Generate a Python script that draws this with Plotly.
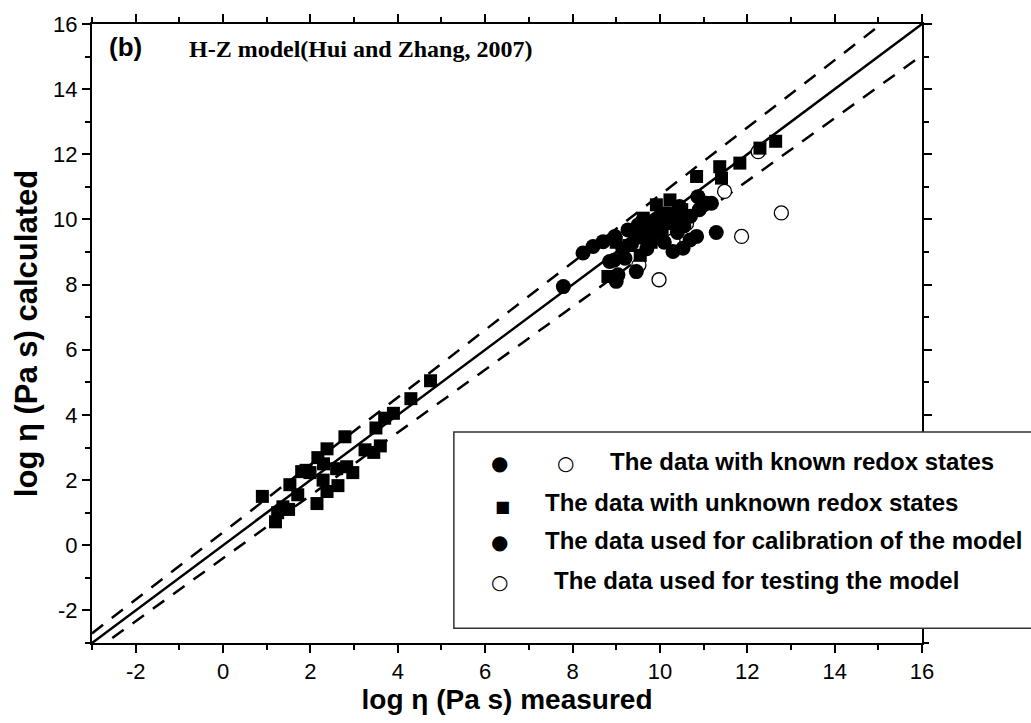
import plotly.graph_objects as go

# ---- data ----
sq_x = [0.9, 1.2, 1.25, 1.37, 1.5, 1.53, 1.71, 1.8, 1.9, 1.99, 2.15, 2.17, 2.29, 2.38, 2.38, 2.3, 2.63, 2.6,
        2.79, 2.83, 2.97, 3.25, 3.45, 3.5, 3.6, 3.7, 3.9, 4.3, 4.75,
        8.81, 9.0, 9.3, 9.45, 9.55, 9.62, 9.7, 9.8, 9.92, 9.95, 10.05, 10.1, 10.23, 10.4, 10.5, 10.84,
        11.37, 11.41, 11.83, 12.29, 12.65]
sq_y = [1.5, 0.72, 1.0, 1.18, 1.1, 1.86, 1.55, 2.26, 2.3, 2.23, 1.28, 2.69, 2.0, 1.65, 2.96, 2.5, 1.83, 2.35,
        3.33, 2.41, 2.23, 2.93, 2.85, 3.6, 3.05, 3.9, 4.05, 4.5, 5.05,
        8.25, 9.3, 9.2, 9.5, 8.9, 10.04, 9.6, 9.3, 10.45, 9.9, 9.7, 10.2, 10.6, 10.0, 10.3, 11.32,
        11.62, 11.27, 11.73, 12.19, 12.4]

cal_x = [7.79, 8.24, 8.47, 8.7, 8.85, 8.97, 9.04, 9.0, 9.2, 9.27, 9.46, 9.5, 9.35, 9.6, 9.7, 9.8, 9.9, 10.0,
         10.1, 10.2, 10.3, 10.35, 10.45, 10.53, 10.55, 10.69, 10.7, 10.84, 10.87, 10.9, 11.06, 11.18, 11.29,
         9.15, 8.95, 9.6, 10.4, 10.0]
cal_y = [7.94, 8.97, 9.17, 9.32, 8.71, 9.48, 8.3, 8.1, 8.81, 9.68, 8.4, 9.83, 9.25, 9.45, 9.1, 9.7, 10.0, 9.6,
         9.3, 9.9, 9.02, 10.2, 10.4, 9.12, 9.8, 9.37, 10.1, 9.48, 10.7, 10.3, 10.5, 10.5, 9.6,
         9.1, 8.75, 9.95, 9.6, 10.1]

test_x = [9.52, 9.98, 10.3, 10.61, 11.48, 11.87, 12.78, 12.25]
test_y = [8.6, 8.15, 9.35, 9.87, 10.86, 9.48, 10.2, 12.08]

line_x = [-3, 16]
upper_coef = (1.035, 0.4)
lower_coef = (0.965, -0.4)

legend_labels = ["The data with known redox states",
                 "The data with unknown redox states",
                 "The data used for calibration of the model",
                 "The data used for testing the model"]

x_ticks = [-2, 0, 2, 4, 6, 8, 10, 12, 14, 16]
y_ticks = [-2, 0, 2, 4, 6, 8, 10, 12, 14, 16]

ARIAL = "Arial, Liberation Sans, sans-serif"
TIMES = "Times New Roman, Liberation Serif, serif"

fig = go.Figure()

fig.add_trace(go.Scatter(x=line_x, y=line_x, mode="lines",
                         line=dict(color="black", width=2.5), hoverinfo="skip"))
fig.add_trace(go.Scatter(x=line_x, y=[upper_coef[0] * v + upper_coef[1] for v in line_x], mode="lines",
                         line=dict(color="black", width=2.5, dash="14px,11px"), hoverinfo="skip"))
fig.add_trace(go.Scatter(x=line_x, y=[lower_coef[0] * v + lower_coef[1] for v in line_x], mode="lines",
                         line=dict(color="black", width=2.5, dash="14px,11px"), hoverinfo="skip"))

fig.add_trace(go.Scatter(x=test_x, y=test_y, mode="markers",
                         marker=dict(symbol="circle", size=14, color="white",
                                     line=dict(color="black", width=1.3))))
fig.add_trace(go.Scatter(x=cal_x, y=cal_y, mode="markers",
                         marker=dict(symbol="circle", size=15, color="black", line=dict(width=0))))
fig.add_trace(go.Scatter(x=sq_x, y=sq_y, mode="markers",
                         marker=dict(symbol="square", size=13, color="black", line=dict(width=0))))

axis_common = dict(showgrid=False, zeroline=False, showline=True, linecolor="black", linewidth=2,
                   mirror="ticks", ticks="outside", ticklen=8, tickwidth=2, tickcolor="black",
                   tickfont=dict(family=ARIAL, size=22, color="black"),
                   minor=dict(ticks="outside", ticklen=5, tickwidth=2, tickcolor="black", dtick=1))

fig.update_xaxes(range=[-3, 16], tickmode="array", tickvals=x_ticks, ticktext=[str(v) for v in x_ticks],
                 title=dict(text="<b>log η (Pa s) measured</b>", font=dict(family=ARIAL, size=28, color="black"),
                            standoff=6), **axis_common)
fig.update_yaxes(range=[-3, 16], tickmode="array", tickvals=y_ticks, ticktext=[str(v) for v in y_ticks],
                 title=dict(text="<b>log η (Pa s) calculated</b>", font=dict(family=ARIAL, size=31, color="black"),
                            standoff=6), **axis_common)

# custom legend box
fig.add_shape(type="rect", xref="paper", yref="paper", x0=0.436, x1=1.16, y0=0.024, y1=0.341,
              line=dict(color="#333333", width=1.5), fillcolor="white", layer="above")

row_y = [0.268, 0.202, 0.141, 0.076]
sym_font = dict(family="DejaVu Sans", size=20, color="black")
fig.add_annotation(xref="paper", yref="paper", x=0.491, y=row_y[0], text="●", showarrow=False, font=sym_font)
fig.add_annotation(xref="paper", yref="paper", x=0.571, y=row_y[0], text="○", showarrow=False, font=sym_font)
fig.add_annotation(xref="paper", yref="paper", x=0.494, y=row_y[1], text="■", showarrow=False,
                   font=dict(family="DejaVu Sans", size=16, color="black"))
fig.add_annotation(xref="paper", yref="paper", x=0.491, y=row_y[2], text="●", showarrow=False, font=sym_font)
fig.add_annotation(xref="paper", yref="paper", x=0.491, y=row_y[3], text="○", showarrow=False, font=sym_font)

text_x = [0.622, 0.543, 0.543, 0.554]
for lbl, tx, ty in zip(legend_labels, text_x, row_y):
    fig.add_annotation(xref="paper", yref="paper", x=tx, y=ty, text="<b>" + lbl + "</b>", showarrow=False,
                       xanchor="left", font=dict(family=ARIAL, size=24, color="black"))

fig.add_annotation(xref="paper", yref="paper", x=0.018, y=0.99, xanchor="left", yanchor="top",
                   text="<b>(b)</b>", showarrow=False, font=dict(family=ARIAL, size=26, color="black"))
fig.add_annotation(xref="paper", yref="paper", x=0.114, y=0.984, xanchor="left", yanchor="top",
                   text="<b>H-Z model(Hui and Zhang, 2007)</b>", showarrow=False,
                   font=dict(family=TIMES, size=24, color="black"))

fig.update_layout(width=1031, height=723, margin=dict(l=92, r=109, t=24, b=80),
                  paper_bgcolor="white", plot_bgcolor="white", showlegend=False)

fig.write_html("out.html")
